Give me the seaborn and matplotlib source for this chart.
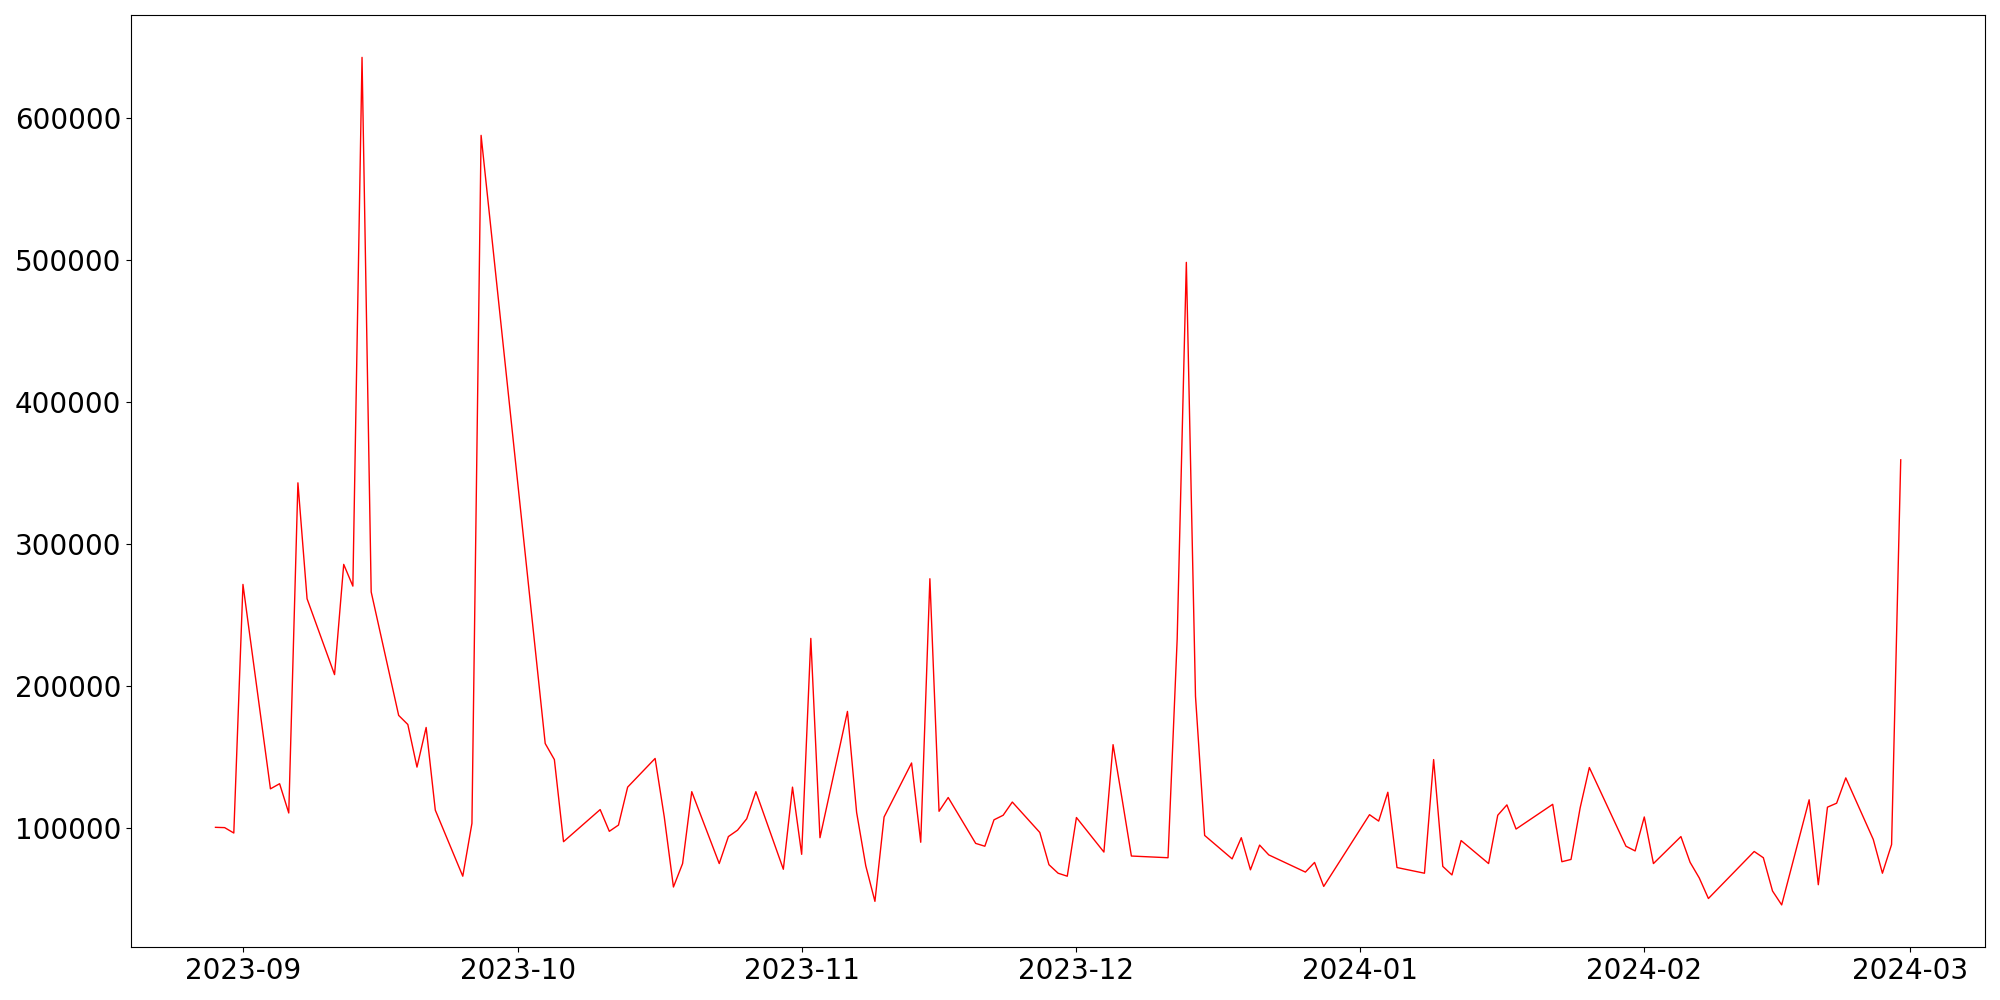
import pandas as pd
import matplotlib
matplotlib.use("Agg")
import matplotlib.pyplot as plt
import seaborn as sns

# -------------------------------
# Data
# -------------------------------
dates = [
    "2023-08-29", "2023-08-30", "2023-08-31", "2023-09-01",
    "2023-09-04", "2023-09-05", "2023-09-06", "2023-09-07", "2023-09-08",
    "2023-09-11", "2023-09-12", "2023-09-13", "2023-09-14", "2023-09-15",
    "2023-09-18", "2023-09-19", "2023-09-20", "2023-09-21", "2023-09-22",
    "2023-09-25", "2023-09-26", "2023-09-27",
    "2023-10-04", "2023-10-05", "2023-10-06",
    "2023-10-10", "2023-10-11", "2023-10-12", "2023-10-13",
    "2023-10-16", "2023-10-17", "2023-10-18", "2023-10-19", "2023-10-20",
    "2023-10-23", "2023-10-24", "2023-10-25", "2023-10-26", "2023-10-27",
    "2023-10-30", "2023-10-31", "2023-11-01", "2023-11-02", "2023-11-03",
    "2023-11-06", "2023-11-07", "2023-11-08", "2023-11-09", "2023-11-10",
    "2023-11-13", "2023-11-14", "2023-11-15", "2023-11-16", "2023-11-17",
    "2023-11-20", "2023-11-21", "2023-11-22", "2023-11-23", "2023-11-24",
    "2023-11-27", "2023-11-28", "2023-11-29", "2023-11-30", "2023-12-01",
    "2023-12-04", "2023-12-05", "2023-12-06", "2023-12-07",
    "2023-12-11", "2023-12-12", "2023-12-13", "2023-12-14", "2023-12-15",
    "2023-12-18", "2023-12-19", "2023-12-20", "2023-12-21", "2023-12-22",
    "2023-12-26", "2023-12-27", "2023-12-28",
    "2024-01-02", "2024-01-03", "2024-01-04", "2024-01-05",
    "2024-01-08", "2024-01-09", "2024-01-10", "2024-01-11", "2024-01-12",
    "2024-01-15", "2024-01-16", "2024-01-17", "2024-01-18",
    "2024-01-22", "2024-01-23", "2024-01-24", "2024-01-25", "2024-01-26",
    "2024-01-30", "2024-01-31", "2024-02-01", "2024-02-02",
    "2024-02-05", "2024-02-06", "2024-02-07", "2024-02-08",
    "2024-02-13", "2024-02-14", "2024-02-15", "2024-02-16",
    "2024-02-19", "2024-02-20", "2024-02-21", "2024-02-22", "2024-02-23",
    "2024-02-26", "2024-02-27", "2024-02-28", "2024-02-29",
]

values = [
    100500, 100300, 96500, 271500,
    127600, 131200, 110600, 343000, 261400,
    208000, 285600, 270300, 642500, 266200,
    179300, 172900, 142900, 170800, 112600,
    66100, 103300, 587600,
    159500, 148200, 90400,
    113000, 97700, 102100, 128800,
    149000, 107800, 58500, 75000, 125600,
    75000, 94000, 98500, 106500, 125600,
    71000, 128800, 81500, 233500, 93200,
    182100, 111000, 73400, 48400, 107800,
    145800, 90000, 275500, 111800, 121500,
    89200, 87200, 105800, 109000, 118300,
    96900, 74200, 68200, 66100, 107400,
    83100, 158700, 119900, 80300,
    79100, 233100, 498200, 192700, 94800,
    78300, 93200, 70600, 88000, 81100,
    69000, 75800, 58900,
    109400, 104900, 125200, 72200,
    68200, 148200, 73000, 67000, 91200,
    75000, 109000, 116300, 99300,
    116700, 76300, 77900, 114300, 142600,
    87200, 83900, 107800, 75000,
    94000, 75900, 64900, 50400,
    83500, 79100, 55700, 45900,
    119900, 60100, 114700, 117500, 135300,
    92000, 68200, 88400, 359200,
]

df = pd.DataFrame({"date": pd.to_datetime(dates), "value": values})

# -------------------------------
# Line plot
# -------------------------------
fig, ax = plt.subplots(figsize=(20, 10), dpi=100)
sns.lineplot(data=df, x="date", y="value", color="red", linewidth=1, ax=ax)
ax.set_xlabel("")
ax.set_ylabel("")
ax.tick_params(labelsize=20)

plt.tight_layout()
fig.savefig("out.png")
